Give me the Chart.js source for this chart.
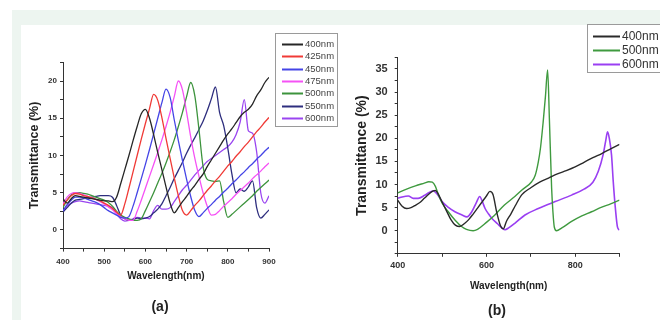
<!DOCTYPE html>
<html>
<head>
<meta charset="utf-8">
<script src="https://cdn.jsdelivr.net/npm/chart.js@4.4.0/dist/chart.umd.min.js"></script>
<style>
  body { margin: 0; background: #ffffff; }
  #wrap { position: relative; width: 660px; height: 320px; overflow: hidden; background: #ffffff; }
  #band { position: absolute; left: 12px; top: 10px; width: 660px; height: 320px; background: #edf5f0; }
  #inner { position: absolute; left: 21px; top: 25px; width: 660px; height: 320px; background: #ffffff; }
  canvas { position: absolute; top: 0; }
  #chartA { left: 0; }
  #chartB { left: 345px; }
  .tag { position: absolute; font: bold 14px "Liberation Sans", Arial, sans-serif; color: #222; transform: translate(-50%, -50%); }
</style>
</head>
<body>
<div id="wrap">
  <div id="band"></div>
  <div id="inner"></div>
  <canvas id="chartA" width="345" height="320"></canvas>
  <canvas id="chartB" width="315" height="320"></canvas>
  <div class="tag" style="left:160px; top:306px;">(a)</div>
  <div class="tag" style="left:497px; top:310px;">(b)</div>
</div>
<script>
'use strict'
// ---- panel (a) data : wavelength grid (nm) and transmittance (%) per excitation ----
var wavelengthA = [400, 410, 420, 430, 440, 450, 460, 470, 480, 490,
  500, 510, 520, 530, 540, 550, 560, 570, 580, 590,
  600, 610, 620, 630, 640, 650, 660, 670, 680, 690,
  700, 710, 720, 730, 740, 750, 760, 770, 780, 790,
  800, 810, 820, 830, 840, 850, 860, 870, 880, 890, 900];
var seriesNamesA = ['400nm', '425nm', '450nm', '475nm', '500nm', '550nm', '600nm'];
var tA400 = [4.2, 3.6, 4.2, 4.6, 4.5, 4.4, 4.3, 4.2, 4.1, 4.0,
  3.9, 3.9, 3.8, 4.4, 6.2, 8.1, 10.0, 12.0, 13.9, 15.6,
  16.2, 15.0, 12.8, 10.4, 8.1, 5.8, 3.6, 2.3, 3.0, 3.8,
  4.5, 5.3, 6.0, 6.8, 7.5, 8.5, 9.4, 10.3, 11.2, 12.1,
  12.9, 13.6, 14.4, 15.2, 15.8, 16.2, 16.9, 18.0, 18.8, 19.8, 20.5];
var tA425 = [3.3, 4.0, 4.6, 4.9, 4.8, 4.6, 4.5, 4.3, 4.1, 3.9,
  3.6, 3.3, 2.9, 2.4, 2.0, 3.5, 5.6, 7.8, 10.0, 12.2,
  14.3, 16.3, 18.2, 17.4, 15.1, 12.3, 9.6, 7.0, 4.6, 2.6,
  2.0, 2.6, 3.3, 3.9, 4.6, 5.3, 5.9, 6.6, 7.2, 7.9,
  8.6, 9.2, 9.9, 10.5, 11.2, 11.8, 12.5, 13.2, 13.8, 14.5, 15.1];
var tA450 = [2.6, 3.4, 4.0, 4.4, 4.4, 4.3, 4.1, 3.9, 3.7, 3.4,
  3.0, 2.6, 2.3, 2.0, 1.7, 1.6, 1.8, 3.2, 5.0, 6.9,
  8.8, 10.8, 12.9, 15.0, 17.1, 18.9, 17.8, 14.8, 12.0, 9.3,
  6.8, 4.5, 2.6, 1.8, 2.3, 2.9, 3.4, 4.0, 4.5, 5.1,
  5.6, 6.2, 6.7, 7.3, 7.8, 8.4, 8.9, 9.5, 10.0, 10.6, 11.1];
var tA475 = [3.5, 4.4, 4.9, 5.0, 4.9, 4.7, 4.5, 4.3, 4.1, 3.8,
  3.5, 3.1, 2.7, 2.2, 1.8, 1.5, 1.3, 1.3, 2.5, 4.0,
  5.6, 7.2, 8.8, 10.4, 12.1, 13.9, 15.8, 17.9, 20.0, 18.8,
  15.8, 12.5, 9.6, 7.2, 5.0, 3.2, 2.0, 2.1, 2.6, 3.2,
  3.7, 4.2, 4.8, 5.3, 5.8, 6.3, 6.9, 7.4, 7.9, 8.5, 9.0];
var tA500 = [3.0, 4.0, 4.7, 5.0, 5.0, 4.9, 4.8, 4.6, 4.4, 4.2,
  4.0, 3.7, 3.2, 2.5, 2.0, 1.7, 1.5, 1.3, 1.3, 1.5,
  2.6, 3.8, 5.0, 6.3, 7.6, 9.0, 10.5, 12.1, 13.9, 15.8,
  17.9, 19.8, 18.0, 13.5, 8.5, 6.8, 6.6, 6.5, 6.6, 3.8,
  1.7, 2.1, 2.6, 3.1, 3.6, 4.1, 4.6, 5.2, 5.7, 6.2, 6.7];
var tA550 = [2.4, 3.0, 3.6, 4.0, 4.1, 4.2, 4.3, 4.4, 4.5, 4.6,
  4.6, 4.6, 4.4, 3.3, 2.0, 1.5, 1.3, 1.4, 1.6, 1.5,
  1.6, 1.8, 2.3, 2.8, 3.5, 4.6, 5.7, 6.9, 8.0, 9.1,
  10.3, 11.4, 12.4, 13.5, 14.6, 16.0, 17.6, 19.2, 15.8, 14.0,
  11.0, 7.5, 5.0, 5.5, 5.2, 5.8, 6.6, 3.0, 1.6, 2.1, 2.7];
var tA600 = [2.5, 3.2, 3.6, 3.8, 3.9, 3.8, 3.7, 3.6, 3.5, 3.4,
  3.3, 3.2, 3.0, 2.2, 1.5, 1.2, 1.3, 1.5, 1.7, 1.6,
  1.6, 1.5, 2.6, 3.3, 2.8, 2.8, 3.0, 3.8, 4.6, 5.4,
  6.0, 6.7, 7.4, 8.0, 8.6, 9.2, 9.6, 10.0, 10.4, 10.8,
  11.2, 11.8, 12.8, 14.5, 17.5, 13.3, 13.0, 10.5, 5.0, 3.6, 4.6];
var colorsA = ['#262626', '#f03a36', '#4545e6', '#f552f5', '#3c933c', '#2e2e7e', '#9a45f0'];

// ---- panel (b) data : each curve has its own wavelength samples ----
var seriesNamesB = ['400nm', '500nm', '600nm'];
var wlB400 = [400, 410, 420, 430, 440, 450, 460, 470, 480, 485,
  490, 500, 510, 520, 530, 540, 550, 560, 570, 580,
  590, 600, 608, 615, 623, 632, 638, 645, 655, 665,
  680, 700, 720, 740, 760, 780, 800, 820, 840, 860, 880, 900];
var tB400 = [6.6, 5.3, 4.8, 5.0, 5.5, 6.1, 7.0, 7.9, 8.6, 8.7,
  8.2, 6.2, 4.3, 2.4, 1.2, 0.9, 1.5, 2.4, 3.6, 4.9,
  6.2, 7.5, 8.5, 7.8, 4.1, 1.0, 0.4, 2.0, 3.6, 5.4,
  7.8, 9.3, 10.5, 11.4, 12.3, 13.0, 13.8, 14.8, 15.8, 16.7, 17.7, 18.7];
var wlB500 = [400, 420, 440, 460, 470, 478, 485, 492, 500, 514,
  530, 544, 555, 570, 580, 600, 619, 640, 664, 680,
  702, 710, 717, 722, 728, 733, 738, 742, 747, 750,
  753, 758, 770, 792, 815, 837, 860, 880, 900];
var tB500 = [8.2, 9.0, 9.7, 10.3, 10.6, 10.5, 9.6, 7.7, 6.0, 4.1,
  2.2, 0.9, 0.3, 0.0, 0.3, 1.8, 3.4, 5.5, 7.4, 8.8,
  10.6, 12.0, 14.9, 18.0, 23.6, 29.0, 34.8, 24.0, 9.2, 4.0,
  0.8, 0.0, 0.6, 2.0, 3.2, 4.1, 5.1, 5.8, 6.6];
var wlB600 = [400, 410, 424, 435, 446, 460, 470, 480, 490, 500,
  515, 529, 545, 556, 567, 577, 585, 590, 597, 605,
  612, 625, 635, 642, 650, 664, 687, 717, 755, 792,
  820, 840, 852, 863, 869, 873, 877, 882, 886, 890, 895, 899];
var tB600 = [7.0, 7.3, 7.5, 7.0, 7.0, 7.6, 8.2, 8.6, 7.8, 6.3,
  5.0, 4.1, 3.4, 3.0, 4.1, 6.0, 7.4, 6.5, 4.8, 3.6,
  2.7, 1.5, 0.6, 0.2, 0.6, 1.6, 3.4, 4.8, 6.3, 7.7,
  9.0, 10.5, 12.8, 16.4, 19.5, 21.4, 20.0, 16.4, 10.5, 5.6, 1.0, 0.1];
var colorsB = ['#2a2a2a', '#3f9a3f', '#9a3ff2'];

Chart.defaults.font.family = '"Liberation Sans", Arial, sans-serif';
Chart.defaults.color = '#333';

// pair up x and y arrays into points for a linear x axis
function toPoints(xs, ys) {
  var pts = [];
  for (var i = 0; i < xs.length; i++) {
    pts.push({ x: xs[i], y: ys[i] });
  }
  return pts;
}

function makeDataset(label, xs, ys, color, width) {
  return {
    label: label,
    data: toPoints(xs, ys),
    borderColor: color,
    backgroundColor: color,
    borderWidth: width,
    pointRadius: 0,
    fill: false,
    cubicInterpolationMode: 'monotone'
  };
}

// legend in a thin grey box, drawn where the original has it
var boxLegend = {
  id: 'boxLegend',
  afterDraw: function (chart, args, opts) {
    var ctx = chart.ctx;
    ctx.save();
    ctx.strokeStyle = opts.border;
    ctx.lineWidth = 1;
    ctx.strokeRect(opts.x + 0.5, opts.y + 0.5, opts.w, opts.h);
    ctx.font = opts.font;
    ctx.textBaseline = 'middle';
    ctx.textAlign = 'left';
    chart.data.datasets.forEach(function (ds, i) {
      var y = Math.round(opts.rowY + i * opts.step) + 0.5;
      ctx.strokeStyle = ds.borderColor;
      ctx.lineWidth = opts.lineWidth;
      ctx.beginPath();
      ctx.moveTo(opts.x1, y);
      ctx.lineTo(opts.x2, y);
      ctx.stroke();
      ctx.fillStyle = opts.color;
      ctx.fillText(ds.label, opts.textX, y);
    });
    ctx.restore();
  }
};

function axisX(step, labelEvery, tickSize, pad, titleSize, height, titlePadBottom) {
  return {
    type: 'linear', min: 400, max: 900,
    border: { display: true, color: '#333', width: 1 },
    grid: { display: true, drawOnChartArea: false, tickLength: 3, color: '#333' },
    ticks: {
      stepSize: step, autoSkip: false, maxRotation: 0, padding: pad,
      color: '#333', font: { size: tickSize, weight: 'bold' },
      callback: function (v) { return v % labelEvery === 0 ? v : ''; }
    },
    title: {
      display: true, text: 'Wavelength(nm)', color: '#222',
      font: { size: titleSize, weight: 'bold' }, padding: { top: 0, bottom: titlePadBottom }
    },
    afterFit: function (s) { s.height = height; }
  };
}

function axisY(min, max, tickSize, pad, titleSize, width, titlePadTop) {
  return {
    min: min, max: max,
    border: { display: true, color: '#333', width: 1 },
    grid: { display: true, drawOnChartArea: false, tickLength: 3, color: '#333' },
    ticks: {
      stepSize: 2.5, autoSkip: false, padding: pad,
      color: '#333', font: { size: tickSize, weight: 'bold' },
      callback: function (v) { return (v >= 0 && v % 5 === 0) ? v : ''; }
    },
    title: {
      display: true, text: 'Transmittance (%)', color: '#222',
      font: { size: titleSize, weight: 'bold' }, padding: { top: titlePadTop, bottom: 0 }
    },
    afterFit: function (s) { s.width = width; }
  };
}

// ---- chart (a) ----
var ySeriesA = [tA400, tA425, tA450, tA475, tA500, tA550, tA600];
var datasetsA = [];
for (var i = 0; i < seriesNamesA.length; i++) {
  datasetsA.push(makeDataset(seriesNamesA[i], wavelengthA, ySeriesA[i], colorsA[i], 1.3));
}

new Chart(document.getElementById('chartA'), {
  type: 'line',
  data: { datasets: datasetsA },
  plugins: [boxLegend],
  options: {
    responsive: false, animation: false, devicePixelRatio: 1,
    layout: { padding: { left: 23, right: 76, top: 62.4, bottom: 35.4 } },
    plugins: {
      legend: { display: false }, tooltip: { enabled: false },
      boxLegend: {
        x: 275, y: 33, w: 62, h: 93, border: '#9a9a9a',
        rowY: 44, step: 12.3, x1: 282, x2: 303, textX: 305, lineWidth: 2,
        font: '9.5px "Liberation Sans", Arial, sans-serif', color: '#444'
      }
    },
    scales: {
      x: axisX(50, 100, 8, 5, 10, 36, 2),
      y: axisY(-2.5, 22.5, 8, 3, 12.5, 40, 4.5)
    }
  }
});

// ---- chart (b) ----
var datasetsB = [
  makeDataset(seriesNamesB[0], wlB400, tB400, colorsB[0], 1.4),
  makeDataset(seriesNamesB[1], wlB500, tB500, colorsB[1], 1.4),
  makeDataset(seriesNamesB[2], wlB600, tB600, colorsB[2], 1.6)
];

new Chart(document.getElementById('chartB'), {
  type: 'line',
  data: { datasets: datasetsB },
  plugins: [boxLegend],
  options: {
    responsive: false, animation: false, devicePixelRatio: 1,
    layout: { padding: { left: 4.7, right: 40.5, top: 57.4, bottom: 26.2 } },
    plugins: {
      legend: { display: false }, tooltip: { enabled: false },
      boxLegend: {
        x: 242, y: 24, w: 90, h: 48, border: '#9a9a9a',
        rowY: 36, step: 14, x1: 248, x2: 275, textX: 277, lineWidth: 2,
        font: '12px "Liberation Sans", Arial, sans-serif', color: '#333'
      }
    },
    scales: {
      x: axisX(100, 200, 9, 3, 10, 40, 2),
      y: axisY(-5, 37.5, 11, 7, 14, 48, 4)
    }
  }
});
</script>
</body>
</html>
